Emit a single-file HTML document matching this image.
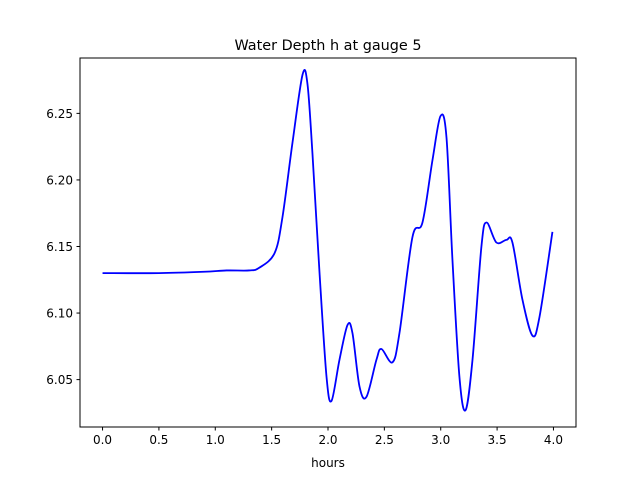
<!DOCTYPE html>
<html><head><meta charset="utf-8">
<style>
body{margin:0;background:#fff;}
svg text{font-family:"DejaVu Sans","Liberation Sans",sans-serif;fill:#000;}
</style></head>
<body>
<svg id="chart" width="640" height="480" xmlns="http://www.w3.org/2000/svg">
<rect width="640" height="480" fill="#fff"/>
<text x="328" y="50" font-size="14.4" text-anchor="middle">Water Depth h at gauge 5</text>
<g id="plot"></g>
<rect x="80" y="58" width="496" height="369" fill="none" stroke="#000" stroke-width="1"/>
<text x="328" y="467" font-size="12" text-anchor="middle">hours</text>
</svg>
<script>
const hours = [0,0.5,0.9,1.1,1.3,1.39,1.526,1.596,1.685,1.774,1.818,1.862,1.925,1.987,2.031,2.102,2.173,2.217,2.279,2.341,2.43,2.474,2.572,2.634,2.749,2.838,2.927,2.998,3.051,3.104,3.166,3.22,3.282,3.361,3.406,3.494,3.583,3.636,3.725,3.814,3.876,3.991];
const depth = [6.130,6.130,6.131,6.132,6.132,6.134,6.145,6.172,6.228,6.279,6.272,6.220,6.130,6.052,6.034,6.065,6.091,6.085,6.045,6.037,6.065,6.073,6.063,6.085,6.157,6.168,6.215,6.248,6.232,6.140,6.052,6.027,6.065,6.150,6.168,6.153,6.155,6.153,6.110,6.083,6.097,6.161];
const xTicks = [0,0.5,1,1.5,2,2.5,3,3.5,4];
const xTickLabels = ["0.0","0.5","1.0","1.5","2.0","2.5","3.0","3.5","4.0"];
const yTicks = [6.05,6.10,6.15,6.20,6.25];
const yTickLabels = ["6.05","6.10","6.15","6.20","6.25"];

const L=80,R=576,T=58,B=427;
const xmin=-0.2,xmax=4.2,ymin=6.0144,ymax=6.2916;
const xs=v=>L+(v-xmin)/(xmax-xmin)*(R-L);
const ys=v=>B-(v-ymin)/(ymax-ymin)*(B-T);
const NS="http://www.w3.org/2000/svg";
const g=document.getElementById('plot');
function mk(tag,attrs){const e=document.createElementNS(NS,tag);for(const k in attrs)e.setAttribute(k,attrs[k]);g.appendChild(e);return e;}

xTicks.forEach((t,i)=>{
  const l=mk('line',{x1:xs(t),x2:xs(t),y1:B,y2:B+3.5,stroke:'#000'});
  
  
  const tx=mk('text',{x:xs(t),y:B+17,'font-size':12,'text-anchor':'middle'});
  tx.textContent=xTickLabels[i];
  
  
});
yTicks.forEach((t,i)=>{
  const l=mk('line',{x1:L-3.5,x2:L,y1:ys(t),y2:ys(t),stroke:'#000'});
  
  
  const tx=mk('text',{x:L-7,y:ys(t)+4.5,'font-size':12,'text-anchor':'end'});
  tx.textContent=yTickLabels[i];
  
  
});

const P=hours.map((h,i)=>[xs(h),ys(depth[i])]);
let d='M'+P[0][0]+','+P[0][1];
for(let i=0;i<P.length-1;i++){
  const p0=P[Math.max(i-1,0)],p1=P[i],p2=P[i+1],p3=P[Math.min(i+2,P.length-1)];
  const c1=[p1[0]+(p2[0]-p0[0])/6,p1[1]+(p2[1]-p0[1])/6];
  const c2=[p2[0]-(p3[0]-p1[0])/6,p2[1]-(p3[1]-p1[1])/6];
  d+=' C'+c1[0]+','+c1[1]+' '+c2[0]+','+c2[1]+' '+p2[0]+','+p2[1];
}
const line=mk('path',{d:d,fill:'none',stroke:'#0000ff','stroke-width':1.8,'stroke-linejoin':'round'});


</script>
</body></html>
